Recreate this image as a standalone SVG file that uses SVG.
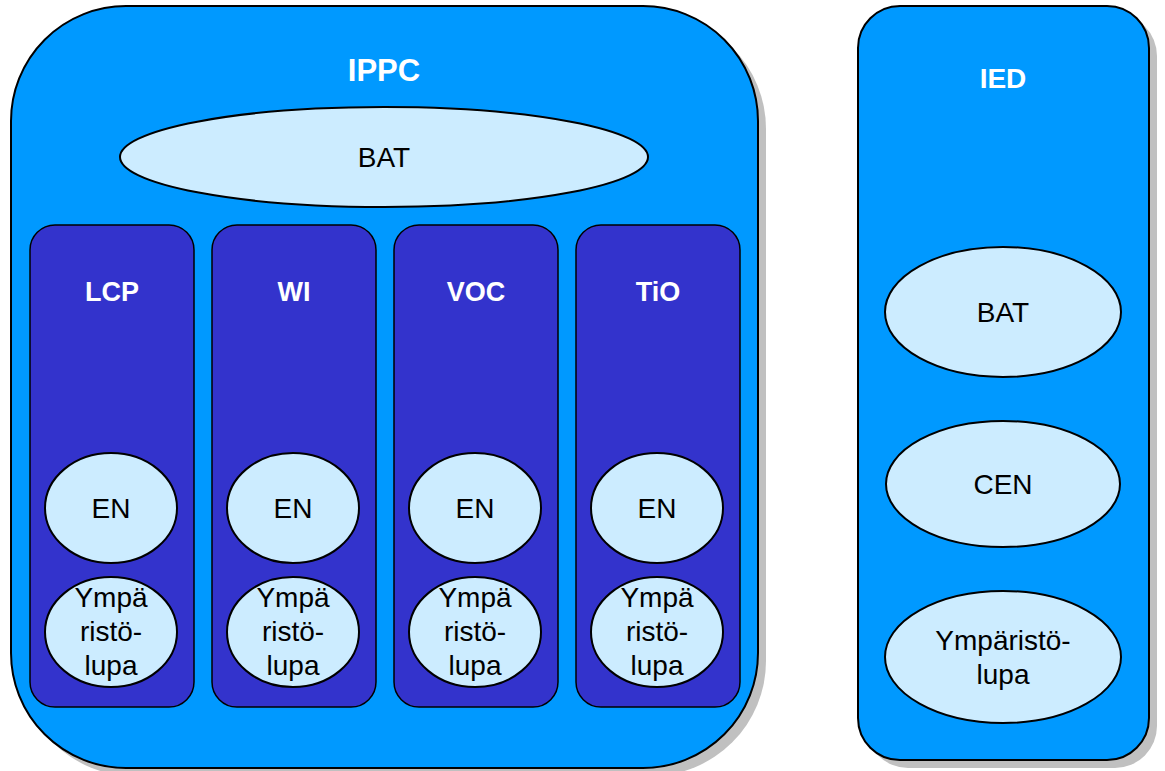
<svg xmlns="http://www.w3.org/2000/svg" width="1165" height="771" viewBox="0 0 1165 771">
<style>
.outer{fill:#0099FF;stroke:#000;stroke-width:2}
.shadow{fill:#C0C0C0}
.col{fill:#3333CC;stroke:#000;stroke-width:1.5}
.ell{fill:#CCECFF;stroke:#000;stroke-width:2}
.t{font-family:"Liberation Sans",Arial,sans-serif;font-size:28px;fill:#000;text-anchor:middle}
.h{font-family:"Liberation Sans",Arial,sans-serif;font-size:28px;font-weight:bold;fill:#fff;text-anchor:middle}
.c{font-size:27px}
</style>
<rect width="1165" height="771" fill="#fff"/>
<g id="ippc">
<rect class="shadow" x="19" y="14" width="747" height="762" rx="115" ry="115"/>
<rect class="outer" x="11" y="6" width="747" height="762" rx="115" ry="115"/>
<text class="h" x="384" y="81" style="font-size:31px">IPPC</text>
</g>
<g id="ippc-bat">
<ellipse class="ell" cx="384" cy="157" rx="264" ry="50"/>
<text class="t" x="384" y="167">BAT</text>
</g>
<g id="lcp">
<rect class="col" x="30" y="225" width="164" height="482" rx="25" ry="25"/>
<text class="h c" x="112" y="301">LCP</text>
<ellipse class="ell" cx="111" cy="508" rx="66" ry="55"/>
<text class="t" x="111" y="518">EN</text>
<ellipse class="ell" cx="111" cy="632" rx="66" ry="55"/>
<text class="t" x="111" y="607">Ympä</text>
<text class="t" x="111" y="641">ristö-</text>
<text class="t" x="111" y="675">lupa</text>
</g>
<g id="wi">
<rect class="col" x="212" y="225" width="164" height="482" rx="25" ry="25"/>
<text class="h c" x="294" y="301">WI</text>
<ellipse class="ell" cx="293" cy="508" rx="66" ry="55"/>
<text class="t" x="293" y="518">EN</text>
<ellipse class="ell" cx="293" cy="632" rx="66" ry="55"/>
<text class="t" x="293" y="607">Ympä</text>
<text class="t" x="293" y="641">ristö-</text>
<text class="t" x="293" y="675">lupa</text>
</g>
<g id="voc">
<rect class="col" x="394" y="225" width="164" height="482" rx="25" ry="25"/>
<text class="h c" x="476" y="301">VOC</text>
<ellipse class="ell" cx="475" cy="508" rx="66" ry="55"/>
<text class="t" x="475" y="518">EN</text>
<ellipse class="ell" cx="475" cy="632" rx="66" ry="55"/>
<text class="t" x="475" y="607">Ympä</text>
<text class="t" x="475" y="641">ristö-</text>
<text class="t" x="475" y="675">lupa</text>
</g>
<g id="tio">
<rect class="col" x="576" y="225" width="164" height="482" rx="25" ry="25"/>
<text class="h c" x="658" y="301">TiO</text>
<ellipse class="ell" cx="657" cy="508" rx="66" ry="55"/>
<text class="t" x="657" y="518">EN</text>
<ellipse class="ell" cx="657" cy="632" rx="66" ry="55"/>
<text class="t" x="657" y="607">Ympä</text>
<text class="t" x="657" y="641">ristö-</text>
<text class="t" x="657" y="675">lupa</text>
</g>
<g id="ied">
<rect class="shadow" x="866" y="14" width="291" height="754" rx="42" ry="42"/>
<rect class="outer" x="858" y="6" width="291" height="754" rx="42" ry="42"/>
<text class="h" x="1003" y="88">IED</text>
</g>
<g id="ied-bat">
<ellipse class="ell" cx="1003" cy="312" rx="118" ry="65"/>
<text class="t" x="1003" y="322">BAT</text>
</g>
<g id="ied-cen">
<ellipse class="ell" cx="1003" cy="484" rx="117" ry="63"/>
<text class="t" x="1003" y="494">CEN</text>
</g>
<g id="ied-lupa">
<ellipse class="ell" cx="1003" cy="657" rx="118" ry="66"/>
<text class="t" x="1003" y="650">Ympäristö-</text>
<text class="t" x="1003" y="684">lupa</text>
</g>
<g id="connectors"/>
</svg>
